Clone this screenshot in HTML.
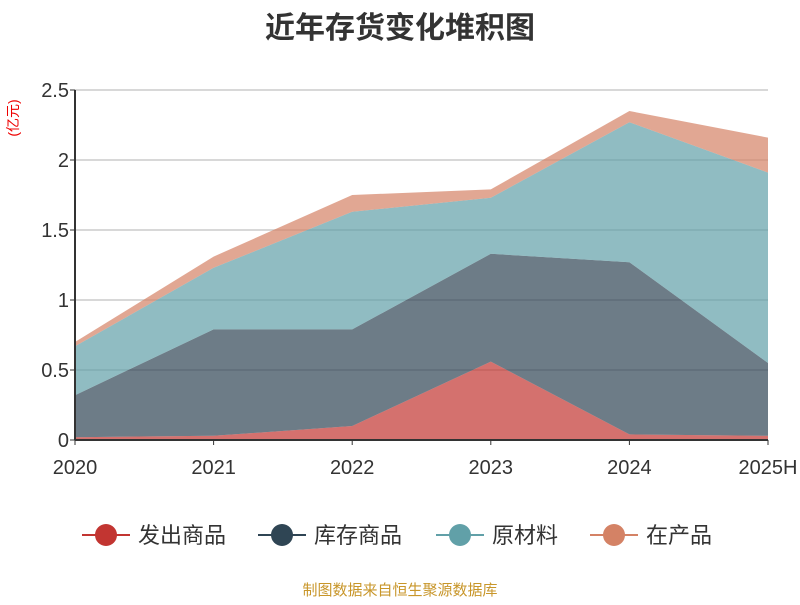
<!DOCTYPE html>
<html><head><meta charset="utf-8"><style>
body{margin:0;background:#fff;font-family:"Liberation Sans","Noto Sans CJK SC",sans-serif}
</style></head><body>
<svg id="c" width="800" height="600" xmlns="http://www.w3.org/2000/svg">
<text x="400" y="38" text-anchor="middle" font-size="30" font-weight="bold" fill="#333" font-family="Liberation Sans,Noto Sans CJK SC,sans-serif">近年存货变化堆积图</text>
<text transform="translate(18,118) rotate(-90)" text-anchor="middle" font-size="14" fill="#e00" font-family="Liberation Sans,Noto Sans CJK SC,sans-serif">(亿元)</text>
<g id="grid"></g><g id="areas"></g><g id="axes"></g><g id="legend"></g>
<text x="400" y="595" text-anchor="middle" font-size="15" fill="#c8962a" font-family="Liberation Sans,Noto Sans CJK SC,sans-serif">制图数据来自恒生聚源数据库</text>
</svg>
<script>
const categories=["2020","2021","2022","2023","2024","2025H"];
const seriesNames=["发出商品","库存商品","原材料","在产品"];
const s1=[0.02,0.03,0.10,0.56,0.04,0.03];
const s2=[0.30,0.76,0.69,0.77,1.23,0.52];
const s3=[0.35,0.44,0.84,0.40,1.00,1.36];
const s4=[0.03,0.08,0.12,0.06,0.08,0.25];
const yTicks=[0,0.5,1,1.5,2,2.5];
const colors=["#c23531","#2f4554","#61a0a8","#d48265"];
const NS="http://www.w3.org/2000/svg";
const X0=75,X1=768,Y0=440,Y1=90;
const xs=i=>X0+(X1-X0)*i/(categories.length-1);
const ys=v=>Y0-(Y0-Y1)*v/2.5;
function mk(t,a,p){const e=document.createElementNS(NS,t);for(const k in a)e.setAttribute(k,a[k]);p.appendChild(e);return e;}
const grid=document.getElementById('grid'),areas=document.getElementById('areas'),axes=document.getElementById('axes'),leg=document.getElementById('legend');
yTicks.forEach(v=>{
 if(v>0){const l=mk('line',{x1:X0,x2:X1,y1:ys(v),y2:ys(v),stroke:'#ccc','stroke-width':1.5},grid);
 }
 const t=mk('text',{x:X0-6,y:ys(v)+7,'text-anchor':'end','font-size':20,fill:'#333'},axes);t.textContent=String(v);
 
 mk('line',{x1:X0-5,x2:X0,y1:ys(v),y2:ys(v),stroke:'#333'},axes);
});
const all=[s1,s2,s3,s4];let base=categories.map(()=>0);
all.forEach((s,k)=>{
 const top=base.map((b,i)=>b+s[i]);
 let d='M'+top.map((v,i)=>xs(i)+','+ys(v)).join('L');
 for(let i=categories.length-1;i>=0;i--)d+='L'+xs(i)+','+ys(base[i]);
 const p=mk('path',{d:d+'Z',fill:colors[k],'fill-opacity':0.7},areas);
 
 base=top;
});
mk('line',{x1:X0,x2:X0,y1:Y1,y2:Y0,stroke:'#333','stroke-width':2},axes);
mk('line',{x1:X0,x2:X1,y1:Y0,y2:Y0,stroke:'#333','stroke-width':2},axes);
categories.forEach((c,i)=>{
 mk('line',{x1:xs(i),x2:xs(i),y1:Y0,y2:Y0+5,stroke:'#333'},axes);
 const t=mk('text',{x:xs(i),y:Y0+34,'text-anchor':i==categories.length-1?'middle':'middle','font-size':20,fill:'#333'},axes);t.textContent=c;
 
});
const lx=[82,258,436,590];
seriesNames.forEach((n,k)=>{
 const g=mk('g',{},leg);
 
 mk('line',{x1:lx[k],x2:lx[k]+48,y1:535,y2:535,stroke:colors[k],'stroke-width':2},g);
 mk('circle',{cx:lx[k]+24,cy:535,r:11,fill:colors[k]},g);
 const t=mk('text',{x:lx[k]+56,y:543,'font-size':22,fill:'#333'},g);t.textContent=n;
});
</script>
</body></html>
